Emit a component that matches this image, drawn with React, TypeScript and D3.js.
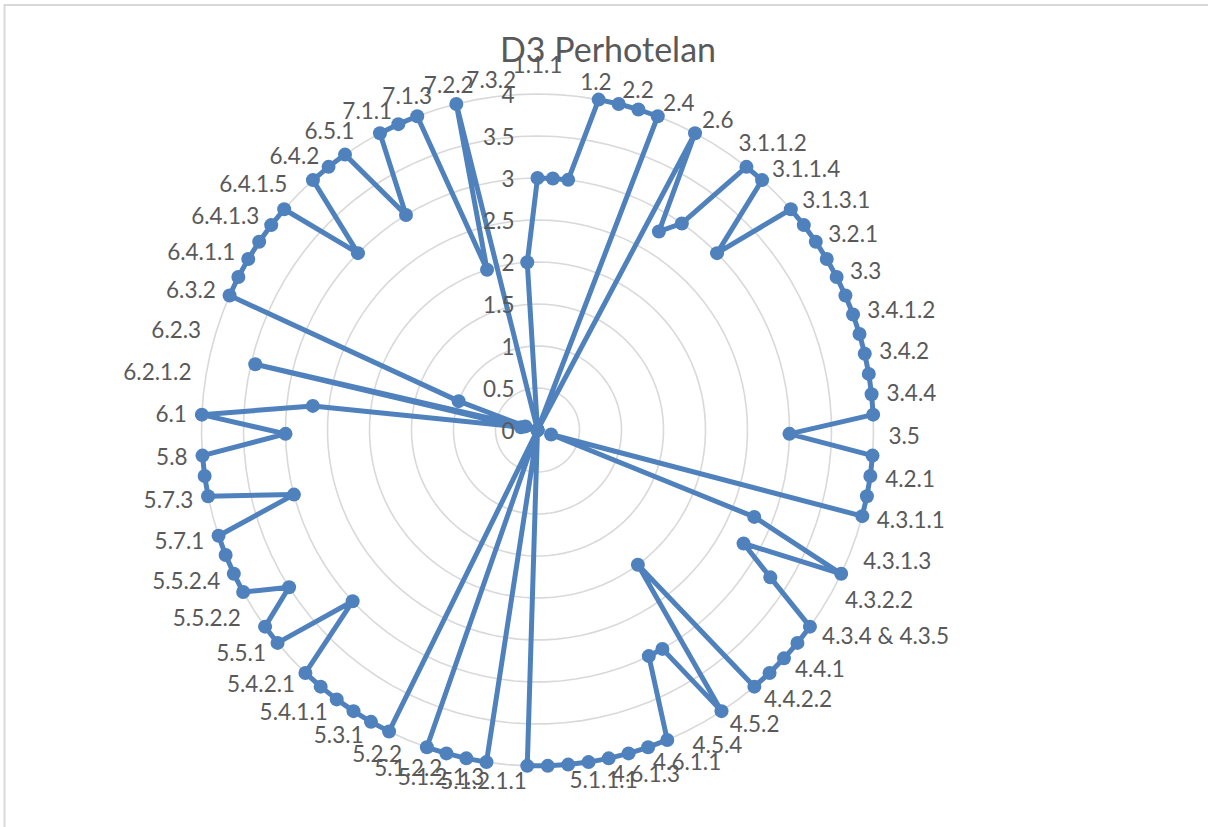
import React from 'react';
import * as d3 from 'd3';

const title = 'D3 Perhotelan';

const categories: string[] = [
  '1.1.1', '1.1.2', '1.2', '2.1', '2.2', '2.3', '2.4', '2.5', '2.6', '3.1.1.1',
  '3.1.1.2', '3.1.1.3', '3.1.1.4', '3.1.2', '3.1.3.1', '3.1.3.2', '3.2.1', '3.2.2', '3.3', '3.4.1.1',
  '3.4.1.2', '3.4.1.3', '3.4.2', '3.4.3', '3.4.4', '3.4.5', '3.5', '4.1', '4.2.1', '4.2.2',
  '4.3.1.1', '4.3.1.2', '4.3.1.3', '4.3.2.1', '4.3.2.2', '4.3.3', '4.3.4 & 4.3.5', '4.3.6', '4.4.1', '4.4.2.1',
  '4.4.2.2', '4.5.1', '4.5.2', '4.5.3', '4.5.4', '4.5.5', '4.6.1.1', '4.6.1.2', '4.6.1.3', '4.6.2',
  '5.1.1.1', '5.1.1.2', '5.1.2.1.1', '5.1.2.1.2', '5.1.2.1.3', '5.1.2.1.4', '5.1.2.2', '5.2.1', '5.2.2', '5.2.3',
  '5.3.1', '5.3.2', '5.4.1.1', '5.4.1.2', '5.4.2.1', '5.4.2.2', '5.5.1', '5.5.2.1', '5.5.2.2', '5.5.2.3',
  '5.5.2.4', '5.6', '5.7.1', '5.7.2', '5.7.3', '5.7.4', '5.8', '5.9', '6.1', '6.2.1.1',
  '6.2.1.2', '6.2.2', '6.2.3', '6.3.1', '6.3.2', '6.3.3', '6.4.1.1', '6.4.1.2', '6.4.1.3', '6.4.1.4',
  '6.4.1.5', '6.4.1.6', '6.4.2', '6.4.3', '6.5.1', '6.5.2', '7.1.1', '7.1.2', '7.1.3', '7.2.1',
  '7.2.2', '7.3.1', '7.3.2',
];

const values: number[] = [
  3, 3, 3, 4, 4, 4, 4, 0, 4, 2.77,
  3, 4, 4, 3, 4, 4, 4, 4, 4, 4,
  4, 4, 4, 4, 4, 4, 3, 4, 4, 4,
  4, 0.17, 2.78, 4, 2.8, 3.28, 4, 4, 4, 4,
  4, 2, 4, 3, 3, 4, 4, 4, 4, 4,
  4, 4, 4, 0, 4, 4, 4, 4, 0, 4,
  4, 4, 4, 4, 4, 3, 4, 4, 3.5, 4,
  4, 4, 4, 3, 4, 4, 4, 3, 4, 2.69,
  0.2, 3.45, 0.15, 1, 4, 4, 4, 4, 4, 4,
  3, 4, 4, 4, 3, 4, 4, 4, 2, 4,
  0, 0, 2,
];

const valueTicks: number[] = [0, 0.5, 1, 1.5, 2, 2.5, 3, 3.5, 4];
const tickLabels: string[] = ['0', '0.5', '1', '1.5', '2', '2.5', '3', '3.5', '4'];

const W = 1208;
const H = 827;
const CX = 537.5;
const CY = 430;
const R = 336;
const SERIES = '#4F81BD';
const TEXT = '#595959';
const GRID = '#D9D9D9';
const FONT = 'Lato, Carlito, Calibri, sans-serif';

export default function App() {
  const n = categories.length;
  const angle = d3.scaleLinear().domain([0, n]).range([0, 2 * Math.PI]);
  const r = d3.scaleLinear().domain([0, 4]).range([0, R]);

  const radial = d3
    .lineRadial<number>()
    .angle((_d, i) => angle(i))
    .radius((d) => r(d))
    .curve(d3.curveLinearClosed);

  const gridPaths = valueTicks
    .filter((t) => t > 0)
    .map((t) => radial(d3.range(n).map(() => t)) as string);

  const seriesPath = radial(values) as string;

  const pt = (i: number, v: number) => {
    const a = angle(i);
    return [r(v) * Math.sin(a), -r(v) * Math.cos(a)];
  };

  const labelR = R + 15;

  return (
    <div style={{ position: 'absolute', left: 0, top: 0, width: W, height: H, background: '#fff' }}>
      <svg width={W} height={H} style={{ display: 'block' }}>
        <rect x={0} y={0} width={W} height={H} fill="#ffffff" />
        <rect x={4.5} y={5} width={W + 10} height={H + 10} fill="none" stroke={GRID} strokeWidth={2} />
        <text
          x={608}
          y={62}
          textAnchor="middle"
          fontFamily={FONT}
          fontSize={34}
          fill={TEXT}
        >
          {title}
        </text>
        <g transform={`translate(${CX},${CY})`}>
          {gridPaths.map((d, k) => (
            <path key={k} d={d} fill="none" stroke={GRID} strokeWidth={1.6} />
          ))}
          <path d={seriesPath} fill="none" stroke={SERIES} strokeWidth={5} strokeLinejoin="round" />
          {values.map((v, i) => {
            const [x, y] = pt(i, v);
            return <circle key={i} cx={x} cy={y} r={7} fill={SERIES} />;
          })}
          {categories.map((c, i) => {
            if (i % 2 !== 0) return null;
            const a = angle(i);
            const s = Math.sin(a);
            const x = labelR * s;
            let y = -labelR * Math.cos(a);
            let anchor: 'start' | 'end' | 'middle' = 'middle';
            if (s > 0.01) anchor = 'start';
            else if (s < -0.01) anchor = 'end';
            if (Math.abs(s) <= 0.01 && Math.cos(a) > 0) y -= 15;
            return (
              <text
                key={'c' + i}
                x={x}
                y={y}
                textAnchor={anchor}
                dominantBaseline="central"
                fontFamily={FONT}
                fontSize={22.5}
                fill={TEXT}
              >
                {c}
              </text>
            );
          })}
          {valueTicks.map((t, k) => (
            <text
              key={'t' + k}
              x={-23}
              y={-r(t)}
              textAnchor="end"
              dominantBaseline="central"
              fontFamily={FONT}
              fontSize={22.5}
              fill={TEXT}
            >
              {tickLabels[k]}
            </text>
          ))}
        </g>
      </svg>
    </div>
  );
}
